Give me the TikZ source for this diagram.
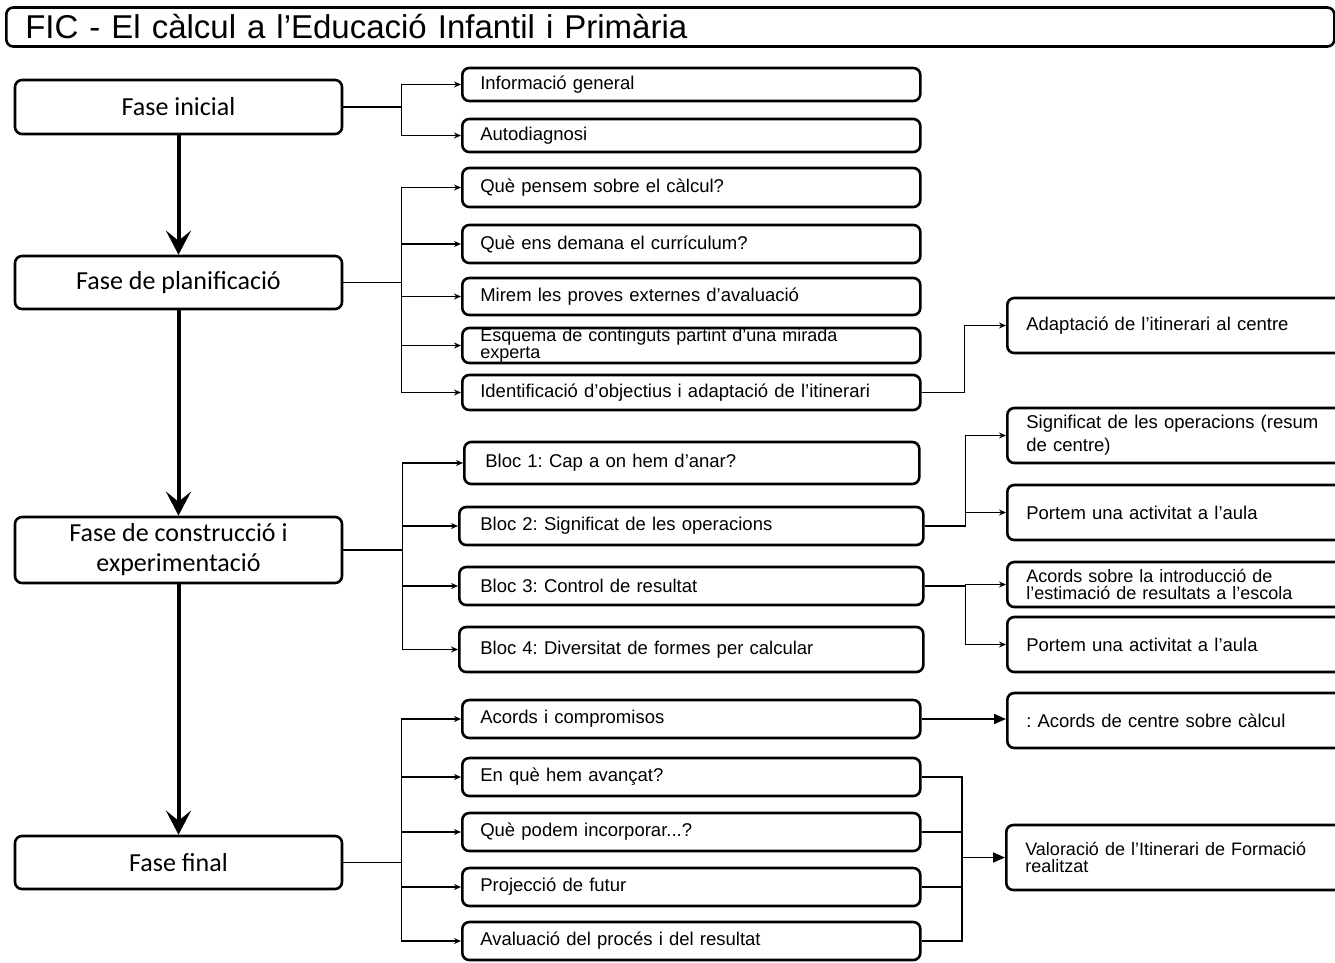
\documentclass[tikz,border=0pt]{standalone}
\usepackage{fontspec}
\setmainfont{Liberation Sans}
\newfontfamily\phasefont{Carlito}
\usetikzlibrary{arrows.meta, positioning}
\frenchspacing

\begin{document}
\begin{tikzpicture} [x=1pt, y=-1pt,
    box/.style={draw, line width=2.6pt, rounded corners=7pt},
    phase/.style={box, minimum width=327pt, minimum height=53pt, align=center, font=\phasefont\fontsize{26}{30}\selectfont},
    item/.style={box, anchor=west, text width=422pt, inner xsep=18pt, inner ysep=0pt, minimum height=38pt, align=left, font=\fontsize{18.5}{22}\selectfont},
    bloc/.style={item, inner xsep=21pt},
    result/.style={box, anchor=west, text width=301pt, inner xsep=19pt, inner ysep=0pt, minimum height=55pt, align=left, font=\fontsize{18.5}{23}\selectfont},
    tight/.style={font=\fontsize{18}{17}\selectfont},
    link/.style={line width=1.6pt, -{Stealth[length=7pt,width=6pt]}},
    joint/.style={line width=1.6pt},
    bigarrow/.style={line width=1.6pt, -{Triangle[length=12pt,width=10pt]}},
    flow/.style={line width=4pt, -{Stealth[length=24pt,width=25pt,inset=10pt]}},]
\useasboundingbox (0,0) rectangle (1335,962);
\clip (0,0) rectangle (1335,962);

\node[box, anchor=west, minimum width=1328pt, minimum height=39pt, text width=1290pt, inner xsep=19pt, inner ysep=0pt, align=left,
    font=\fontsize{33}{36}\selectfont] (title) at (5,27) {FIC - El càlcul a l’Educació Infantil i Primària};

% fases
\node[phase, minimum height=54pt] (inicial) at (178.5,107) {Fase inicial};
\node[phase] (planif) at (178.5,282.5) {Fase de planificació};
\node[phase, minimum height=66pt] (constr) at (178.5,550) {Fase de construcció i\\experimentació};
\node[phase] (final) at (178.5,862.5) {Fase final};

\draw[flow] (inicial) -- (planif);
\draw[flow] (planif) -- (constr);
\draw[flow] (constr) -- (final);

% activitats
\node[item, minimum height=33pt] (info) at (461,84.5) {Informació general};
\node[item, minimum height=33pt] (autod) at (461,135.5) {Autodiagnosi};
\node[item, minimum height=39pt] (pensem) at (461,187.5) {Què pensem sobre el càlcul?};
\node[item] (curric) at (461,244) {Què ens demana el currículum?};
\node[item, minimum height=37pt] (proves) at (461,296.5) {Mirem les proves externes d'avaluació};
\node[item, tight, minimum height=35pt] (esquema) at (461,345.5) {Esquema de continguts partint d'una mirada\\experta};
\node[item, minimum height=35pt] (ident) at (461,392.5) {Identificació d'objectius i adaptació de l'itinerari};

\node[bloc, text width=413pt, minimum height=42pt] (bloc1) at (463,463) {Bloc 1: Cap a on hem d'anar?};
\node[bloc] (bloc2) at (458,526) {Bloc 2: Significat de les operacions};
\node[bloc] (bloc3) at (458,586) {Bloc 3: Control de resultat};
\node[bloc, minimum height=45pt] (bloc4) at (458,649.5) {Bloc 4: Diversitat de formes per calcular};

\node[item] (acords) at (461,719) {Acords i compromisos};
\node[item] (avanc) at (461,777) {En què hem avançat?};
\node[item] (incorp) at (461,832) {Què podem incorporar...?};
\node[item] (proj) at (461,887) {Projecció de futur};
\node[item] (aval) at (461,941) {Avaluació del procés i del resultat};

% resultats
\node[result] (adapt) at (1006,325.5) {Adaptació de l'itinerari al centre};
\node[result] (signif) at (1006,435.5) {Significat de les operacions (resum\\de centre)};
\node[result] (portem1) at (1006,512.5) {Portem una activitat a l'aula};
\node[result, tight, minimum height=45pt] (estim) at (1006,584.5) {Acords sobre la introducció de\\l'estimació de resultats a l'escola};
\node[result] (portem2) at (1006,644.5) {Portem una activitat a l'aula};
\node[result] (centre) at (1006,720.5) {: Acords de centre sobre càlcul};
\node[result, tight, minimum height=65pt] (valor) at (1005,857.5) {Valoració de l'Itinerari de Formació\\realitzat};

\foreach \dest in {info, autod}
    \draw[link] (inicial.east) -- +(58,0) |- (\dest.west);
\foreach \dest in {pensem, curric, proves, esquema, ident}
    \draw[link] (planif.east) -- +(58,0) |- (\dest.west);
\foreach \dest in {bloc1, bloc2, bloc3, bloc4}
    \draw[link] (constr.east) -- +(59,0) |- (\dest.west);
\foreach \dest in {acords, avanc, incorp, proj, aval}
    \draw[link] (final.east) -- +(58,0) |- (\dest.west);

\draw[link] (ident.east) -- +(43,0) |- (adapt.west);
\foreach \dest in {signif, portem1}
    \draw[link] (bloc2.east) -- +(41,0) |- (\dest.west);
\foreach \dest in {estim, portem2}
    \draw[link] (bloc3.east) -- +(41,0) |- (\dest.west);
\draw[bigarrow] (acords.east) -- (acords.east -| centre.west);

\coordinate (valjoin) at (962,857.5);
\foreach \src in {avanc, incorp, proj, aval}
    \draw[joint] (\src.east) -| (valjoin);
\draw[bigarrow] (valjoin) -- (valor.west);

\end{tikzpicture}
\end{document}
